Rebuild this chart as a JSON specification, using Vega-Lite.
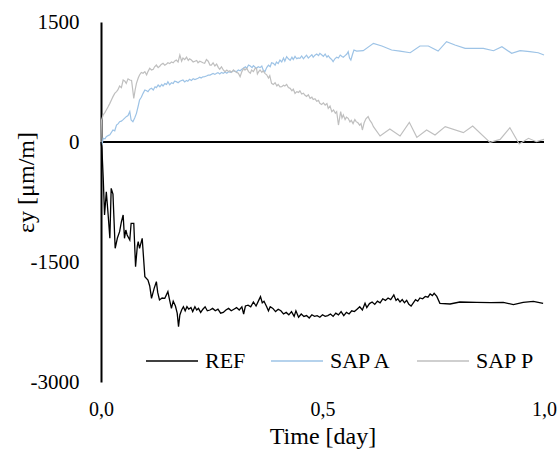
{
 "$schema": "https://vega.github.io/schema/vega-lite/v6.json",
 "width": 443,
 "height": 360,
 "autosize": {"type": "none"},
 "padding": {"left": 101, "top": 22, "right": 16, "bottom": 70},
 "background": "white",
 "config": {"view": {"stroke": null}, "font": "Liberation Serif"},
 "datasets": {
  "REF": [[0,0],[0.002,-80],[0.005,-450],[0.008,-912],[0.012,-621],[0.016,-900],[0.020,-1204],[0.023,-579],[0.027,-650],[0.032,-1329],[0.037,-1200],[0.042,-1121],[0.046,-1000],[0.050,-912],[0.053,-1204],[0.056,-1100],[0.059,-1162],[0.065,-1225],[0.068,-1016],[0.074,-1016],[0.078,-1558],[0.082,-1300],[0.084,-1246],[0.087,-1329],[0.093,-1204],[0.099,-1683],[0.106,-1725],[0.110,-1800],[0.114,-1954],[0.120,-1829],[0.125,-1746],[0.128,-1880],[0.132,-1975],[0.138,-1950],[0.144,-1954],[0.151,-1871],[0.155,-1980],[0.159,-2079],[0.163,-1990],[0.168,-2050],[0.172,-2140],[0.175,-2308],[0.178,-2162],[0.182,-2100],[0.186,-2060],[0.190,-2110],[0.194,-2058],[0.198,-2090],[0.203,-2070],[0.207,-2120],[0.212,-2060],[0.216,-2100],[0.220,-2080],[0.225,-2130],[0.230,-2090],[0.235,-2060],[0.240,-2110],[0.246,-2100],[0.252,-2080],[0.258,-2110],[0.264,-2090],[0.270,-2140],[0.276,-2130],[0.282,-2100],[0.288,-2080],[0.294,-2110],[0.300,-2090],[0.306,-2070],[0.312,-2100],[0.318,-2060],[0.322,-2150],[0.326,-2050],[0.332,-2040],[0.338,-2060],[0.344,-2000],[0.350,-2050],[0.356,-1980],[0.360,-1933],[0.364,-2010],[0.368,-1990],[0.374,-2060],[0.378,-2110],[0.382,-2060],[0.388,-2080],[0.394,-2120],[0.400,-2090],[0.406,-2110],[0.412,-2150],[0.418,-2130],[0.424,-2160],[0.430,-2120],[0.436,-2180],[0.440,-2110],[0.446,-2190],[0.452,-2150],[0.458,-2180],[0.464,-2170],[0.470,-2200],[0.476,-2160],[0.482,-2180],[0.488,-2170],[0.494,-2190],[0.500,-2160],[0.506,-2180],[0.512,-2170],[0.518,-2150],[0.524,-2180],[0.530,-2140],[0.536,-2160],[0.542,-2120],[0.548,-2170],[0.554,-2130],[0.560,-2150],[0.566,-2110],[0.572,-2120],[0.578,-2090],[0.584,-2060],[0.590,-2100],[0.596,-2016],[0.600,-2070],[0.606,-2020],[0.612,-2000],[0.618,-2030],[0.624,-1990],[0.630,-2010],[0.636,-1960],[0.642,-1980],[0.648,-1950],[0.654,-1970],[0.661,-1912],[0.666,-1980],[0.670,-1960],[0.675,-2000],[0.680,-1970],[0.685,-2010],[0.690,-1980],[0.695,-2030],[0.700,-2050],[0.705,-2010],[0.710,-1970],[0.715,-1990],[0.720,-1950],[0.726,-1960],[0.732,-1930],[0.738,-1940],[0.743,-1900],[0.748,-1920],[0.752,-1892],[0.758,-1930],[0.765,-2016],[0.788,-2025],[0.810,-2000],[0.848,-2004],[0.880,-2008],[0.908,-2004],[0.931,-2033],[0.953,-2004],[0.976,-1992],[0.998,-2017]],
  "SAPA": [[0,0],[0.002,-40],[0.005,46],[0.009,40],[0.012,67],[0.016,80],[0.020,90],[0.027,150],[0.031,140],[0.035,212],[0.039,230],[0.042,254],[0.046,260],[0.050,280],[0.057,317],[0.061,330],[0.065,379],[0.068,275],[0.072,254],[0.076,300],[0.080,358],[0.084,450],[0.087,525],[0.091,560],[0.095,608],[0.099,650],[0.103,640],[0.106,629],[0.110,660],[0.114,671],[0.118,650],[0.122,690],[0.125,680],[0.129,712],[0.133,690],[0.137,720],[0.140,700],[0.144,730],[0.148,720],[0.151,754],[0.155,715],[0.159,740],[0.163,730],[0.166,760],[0.170,754],[0.174,740],[0.178,760],[0.185,775],[0.189,750],[0.193,770],[0.196,760],[0.200,785],[0.204,770],[0.208,790],[0.212,780],[0.219,796],[0.223,810],[0.226,800],[0.230,815],[0.234,817],[0.238,825],[0.242,835],[0.246,837],[0.253,858],[0.257,845],[0.261,860],[0.264,867],[0.268,850],[0.272,870],[0.276,858],[0.280,875],[0.284,860],[0.288,880],[0.292,870],[0.299,890],[0.306,879],[0.310,900],[0.314,890],[0.318,910],[0.322,925],[0.326,940],[0.329,920],[0.333,962],[0.337,950],[0.341,930],[0.344,955],[0.348,935],[0.351,921],[0.355,940],[0.359,930],[0.363,950],[0.366,900],[0.370,879],[0.374,930],[0.378,960],[0.382,940],[0.385,990],[0.389,983],[0.393,960],[0.396,1000],[0.400,980],[0.404,1025],[0.408,1000],[0.412,1050],[0.415,1010],[0.419,1067],[0.423,1040],[0.427,1020],[0.431,1060],[0.434,1030],[0.438,1070],[0.442,1040],[0.445,1050],[0.449,1046],[0.453,1075],[0.457,1040],[0.460,1060],[0.464,1085],[0.468,1050],[0.472,1070],[0.476,1090],[0.479,1060],[0.483,1085],[0.487,1100],[0.491,1080],[0.494,1108],[0.498,1090],[0.502,1070],[0.506,1100],[0.510,1060],[0.513,1080],[0.517,1050],[0.521,1030],[0.524,1004],[0.528,1040],[0.532,1060],[0.536,1050],[0.540,1087],[0.544,1070],[0.547,1060],[0.551,1080],[0.555,1100],[0.558,1129],[0.561,1050],[0.564,1025],[0.568,1100],[0.571,1150],[0.577,1137],[0.592,1141],[0.615,1233],[0.634,1200],[0.656,1150],[0.675,1137],[0.698,1116],[0.720,1200],[0.739,1200],[0.761,1137],[0.780,1254],[0.799,1212],[0.822,1171],[0.863,1171],[0.886,1141],[0.905,1192],[0.927,1108],[0.946,1141],[0.968,1129],[0.987,1116],[1.000,1087]],
  "SAPP": [[0,0],[0.001,275],[0.005,338],[0.009,370],[0.012,400],[0.016,440],[0.020,483],[0.024,530],[0.027,567],[0.031,608],[0.035,630],[0.038,650],[0.042,700],[0.046,680],[0.050,775],[0.054,760],[0.057,733],[0.061,790],[0.065,775],[0.069,770],[0.074,546],[0.077,650],[0.080,733],[0.084,800],[0.087,837],[0.091,870],[0.095,860],[0.099,880],[0.103,840],[0.106,880],[0.110,921],[0.114,900],[0.118,910],[0.121,940],[0.125,962],[0.129,930],[0.133,950],[0.136,970],[0.140,983],[0.144,960],[0.148,975],[0.151,990],[0.155,980],[0.159,1000],[0.163,990],[0.166,1010],[0.170,1025],[0.174,1000],[0.178,1087],[0.182,1010],[0.185,1050],[0.189,1030],[0.193,1060],[0.197,1020],[0.200,1040],[0.204,1025],[0.208,1000],[0.212,1010],[0.216,1020],[0.219,990],[0.223,1010],[0.227,1000],[0.230,990],[0.234,983],[0.238,1030],[0.242,1010],[0.246,962],[0.249,962],[0.253,990],[0.257,950],[0.261,975],[0.265,930],[0.268,910],[0.272,940],[0.276,900],[0.280,879],[0.284,900],[0.288,880],[0.291,890],[0.295,870],[0.299,900],[0.303,880],[0.306,870],[0.310,860],[0.314,817],[0.318,880],[0.322,920],[0.325,900],[0.329,921],[0.333,880],[0.337,860],[0.340,900],[0.344,880],[0.348,920],[0.351,921],[0.353,850],[0.356,880],[0.359,900],[0.363,870],[0.366,890],[0.370,858],[0.374,840],[0.378,800],[0.381,830],[0.385,733],[0.389,720],[0.393,740],[0.397,700],[0.400,720],[0.404,690],[0.408,692],[0.412,710],[0.415,700],[0.419,720],[0.423,680],[0.427,671],[0.431,640],[0.434,660],[0.438,608],[0.442,630],[0.446,620],[0.449,640],[0.453,600],[0.457,610],[0.460,587],[0.464,570],[0.468,590],[0.472,546],[0.476,560],[0.479,530],[0.483,540],[0.487,510],[0.491,520],[0.494,483],[0.498,470],[0.502,490],[0.506,462],[0.510,480],[0.513,421],[0.517,450],[0.521,379],[0.525,400],[0.529,360],[0.532,380],[0.536,212],[0.541,379],[0.544,300],[0.547,340],[0.551,280],[0.554,310],[0.558,296],[0.562,250],[0.565,270],[0.569,230],[0.573,280],[0.576,254],[0.580,240],[0.584,210],[0.587,230],[0.590,150],[0.594,240],[0.598,290],[0.603,317],[0.607,270],[0.611,240],[0.615,192],[0.630,75],[0.652,162],[0.675,75],[0.696,246],[0.713,58],[0.735,150],[0.754,87],[0.777,192],[0.818,117],[0.839,200],[0.878,-4],[0.901,33],[0.923,179],[0.944,-25],[0.965,46],[0.983,4],[1.000,33]]
 },
 "layer": [
  {
   "data": {"values": [{"s": "REF"}]},
   "mark": {"type": "rule", "color": "black", "strokeWidth": 2},
   "encoding": {"y": {"datum": 0, "type": "quantitative"}}
  },
  {
   "data": {"name": "SAPA"},
   "transform": [{"calculate": "datum[0]", "as": "t"}, {"calculate": "datum[1]", "as": "v"}, {"calculate": "'SAP A'", "as": "s"}],
   "mark": {"type": "line", "strokeWidth": 1.2},
   "encoding": {
    "x": {"field": "t", "type": "quantitative"},
    "y": {"field": "v", "type": "quantitative"},
    "color": {"field": "s", "type": "nominal"}
   }
  },
  {
   "data": {"name": "SAPP"},
   "transform": [{"calculate": "datum[0]", "as": "t"}, {"calculate": "datum[1]", "as": "v"}, {"calculate": "'SAP P'", "as": "s"}],
   "mark": {"type": "line", "strokeWidth": 1.2},
   "encoding": {
    "x": {"field": "t", "type": "quantitative"},
    "y": {"field": "v", "type": "quantitative"},
    "color": {"field": "s", "type": "nominal"}
   }
  },
  {
   "data": {"name": "REF"},
   "transform": [{"calculate": "datum[0]", "as": "t"}, {"calculate": "datum[1]", "as": "v"}, {"calculate": "'REF'", "as": "s"}],
   "mark": {"type": "line", "strokeWidth": 1.3},
   "encoding": {
    "x": {"field": "t", "type": "quantitative", "title": "Time [day]",
     "scale": {"domain": [0, 1], "nice": false},
     "axis": {"values": [0, 0.5, 1], "labelExpr": "replace(format(datum.value, '.1f'), '.', ',')", "domain": false, "ticks": false, "grid": false, "labelFont": "Liberation Serif", "labelFontSize": 20, "labelColor": "black", "labelPadding": 17, "labelFlush": false, "titleFont": "Liberation Serif", "titleFontSize": 24, "titleFontWeight": "normal", "titleColor": "black", "titlePadding": 5}},
    "y": {"field": "v", "type": "quantitative", "title": "εy [μm/m]",
     "scale": {"domain": [-3000, 1500], "nice": false, "zero": false},
     "axis": {"values": [-3000, -1500, 0, 1500], "labelExpr": "datum.value < 0 ? '-' + abs(datum.value) : '' + datum.value", "domain": true, "domainColor": "black", "domainWidth": 2, "ticks": false, "grid": false, "labelFont": "Liberation Serif", "labelFontSize": 21, "labelColor": "black", "labelPadding": 22, "titleFont": "Liberation Serif", "titleFontSize": 24, "titleFontWeight": "normal", "titleColor": "black", "titleX": -75, "titleY": 160, "titleAlign": "center", "titleBaseline": "middle"}},
    "color": {"field": "s", "type": "nominal",
     "scale": {"domain": ["REF", "SAP A", "SAP P"], "range": ["#000000", "#9DC3E6", "#BFBFBF"]},
     "legend": {"title": null, "orient": "none", "direction": "horizontal", "legendX": 44, "legendY": 312, "symbolType": "stroke", "symbolSize": 2704, "symbolStrokeWidth": 1.5, "labelFont": "Liberation Serif", "labelFontSize": 22, "labelColor": "black", "labelOffset": 6, "columnPadding": 22}}
   }
  }
 ]
}
